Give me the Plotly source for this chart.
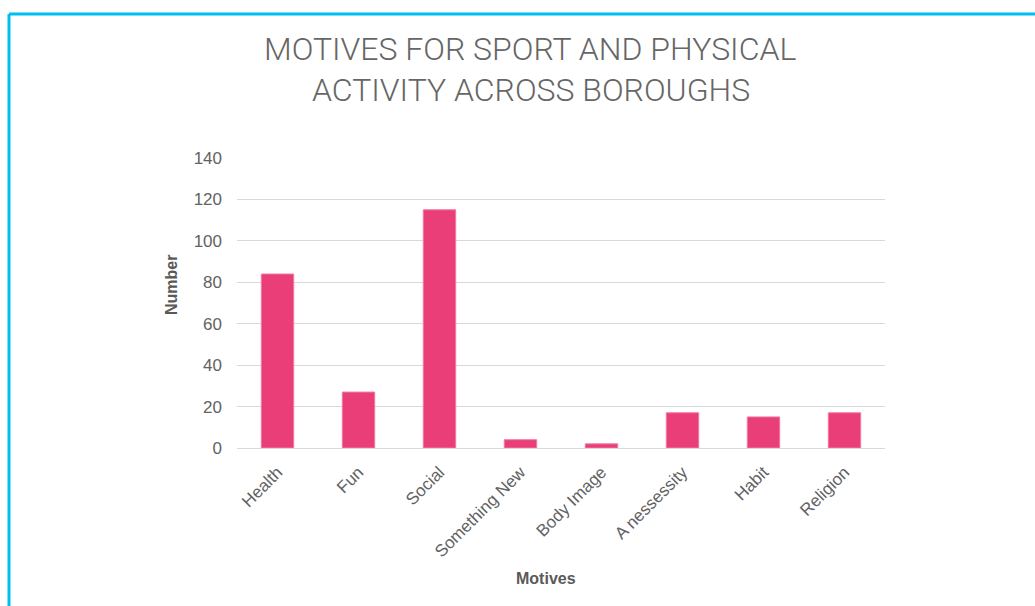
import plotly.graph_objects as go

motives = ["Health", "Fun", "Social", "Something New", "Body Image",
           "A nessessity", "Habit", "Religion"]
counts = [84, 27, 115, 4, 2, 17, 15, 17]
y_ticks = [0, 20, 40, 60, 80, 100, 120, 140]

W, H = 1035, 606
L, R, T, B = 237, 150, 158, 158  # plot area: x 237..885, y 158..448


def px_x(px):
    return (px - L) / (W - L - R)


def px_y(py):
    return (H - B - py) / (H - T - B)


fig = go.Figure(go.Bar(
    x=motives, y=counts,
    marker=dict(color="#E93E78", line=dict(color="#F27AA2", width=1)),
    width=0.4,
))

tick_font = dict(family="Liberation Sans, Arial, sans-serif", size=17, color="#626262")
axis_title_font = dict(family="Liberation Sans, Arial, sans-serif", size=16, color="#595959")
title_font = dict(family="Roboto, sans-serif", size=32, color="#666666", weight=300)

fig.update_layout(
    width=W, height=H,
    margin=dict(l=L, r=R, t=T, b=B),
    paper_bgcolor="white", plot_bgcolor="white",
    showlegend=False,
    xaxis=dict(tickangle=-45, tickfont=tick_font, showline=False,
               showgrid=False, ticks="", fixedrange=True,
               ticklabelstandoff=10),
    yaxis=dict(range=[0, 140], tickvals=y_ticks, tickfont=tick_font,
               showgrid=True, gridcolor="#D9D9D9", gridwidth=1,
               zeroline=True, zerolinecolor="#D9D9D9", zerolinewidth=1,
               showline=False, ticks="", ticklabelstandoff=14),
    annotations=[
        dict(text="MOTIVES FOR SPORT AND PHYSICAL", xref="paper", yref="paper",
             x=px_x(530), y=px_y(49), showarrow=False, font=title_font,
             xanchor="center", yanchor="middle"),
        dict(text="ACTIVITY ACROSS BOROUGHS", xref="paper", yref="paper",
             x=px_x(531), y=px_y(90), showarrow=False, font=title_font,
             xanchor="center", yanchor="middle"),
        dict(text="<b>Number</b>", xref="paper", yref="paper",
             x=px_x(171), y=px_y(285), showarrow=False, textangle=-90,
             font=axis_title_font, xanchor="center", yanchor="middle"),
        dict(text="<b>Motives</b>", xref="paper", yref="paper",
             x=px_x(546), y=px_y(578), showarrow=False,
             font=axis_title_font, xanchor="center", yanchor="middle"),
    ],
    shapes=[
        dict(type="line", xref="paper", yref="paper",
             x0=px_x(9), x1=px_x(1040), y0=px_y(14), y1=px_y(14),
             line=dict(color="#00BFF0", width=3)),
        dict(type="line", xref="paper", yref="paper",
             x0=px_x(9), x1=px_x(9), y0=px_y(14), y1=px_y(612),
             line=dict(color="#00BFF0", width=3)),
    ],
)

fig.write_html("out.html")
